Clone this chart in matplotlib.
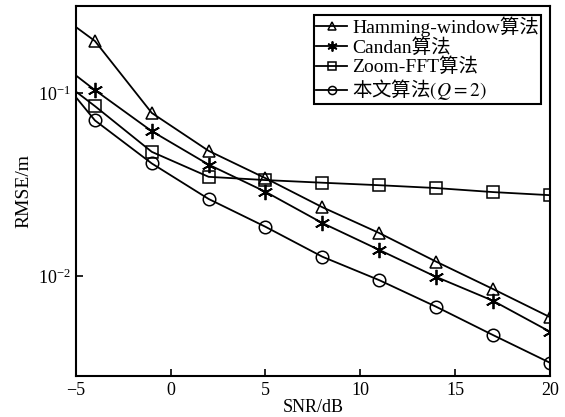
import numpy as np
import matplotlib.pyplot as plt
from matplotlib.ticker import FixedLocator, NullLocator

plt.rcParams['font.family'] = ['Liberation Serif', 'Noto Sans CJK SC']
plt.rcParams['mathtext.fontset'] = 'stix'
plt.rcParams['font.size'] = 13

# SNR values (dB); first point at the left edge carries no marker
snr = [-5, -4, -1, 2, 5, 8, 11, 14, 17, 20]

hamming = [0.23, 0.193, 0.078, 0.0484, 0.0343, 0.0238, 0.0172, 0.0120, 0.0085, 0.00597]
candan = [0.125, 0.104, 0.062, 0.0407, 0.0289, 0.0195, 0.0139, 0.0099, 0.00733, 0.00497]
zoomfft = [0.102, 0.085, 0.0478, 0.0349, 0.0335, 0.0324, 0.0314, 0.0303, 0.0288, 0.0277]
proposed = [0.095, 0.071, 0.0413, 0.0264, 0.0186, 0.01276, 0.0095, 0.0068, 0.00476, 0.00336]

labels = ['Hamming-window算法', 'Candan算法', 'Zoom-FFT算法', r'本文算法$(Q{=}2)$']
markers = ['^', '*', 's', 'o']

fig = plt.figure(figsize=(5.65, 4.17), dpi=100)
ax = fig.add_axes([0.1345, 0.0983, 0.8385, 0.8873])

for ys, m, lab in zip([hamming, candan, zoomfft, proposed], markers, labels):
    if m == '*':
        ax.plot(snr, ys, color='black', lw=1.3, marker=(6, 2, 0), ms=11, mew=1.3,
                markevery=list(range(1, len(snr))), label=lab)
    else:
        ax.plot(snr, ys, color='black', lw=1.3, marker=m, ms=9, mew=1.1,
                mfc='none', markevery=list(range(1, len(snr))), label=lab)

ax.set_yscale('log')
ax.set_xlim(-5, 20)
ax.set_ylim(0.00284, 0.30)
ax.yaxis.set_major_locator(FixedLocator([0.01, 0.1]))
ax.yaxis.set_minor_locator(NullLocator())
ax.set_xticks([-5, 0, 5, 10, 15, 20])
ax.set_xticklabels(['\u22125', '0', '5', '10', '15', '20'])
ax.tick_params(direction='in', length=5, width=1.2, top=False, right=False, pad=4)
for s in ax.spines.values():
    s.set_linewidth(1.5)

ax.set_xlabel('SNR/dB', labelpad=0, fontsize=13)
ax.set_ylabel('RMSE/m', labelpad=4, fontsize=14)

leg = ax.legend(loc='upper right', handlelength=1.6, handletextpad=0.25,
                borderaxespad=0.45, borderpad=0.1, labelspacing=0.05,
                markerscale=0.65, fontsize=14,
                fancybox=False, framealpha=1, edgecolor='black')
leg.get_frame().set_linewidth(1.5)
# mathtext label: its plain characters come from the text's own font
leg.get_texts()[3].set_fontfamily('Noto Sans CJK SC')

fig.savefig('out.png', dpi=100)
